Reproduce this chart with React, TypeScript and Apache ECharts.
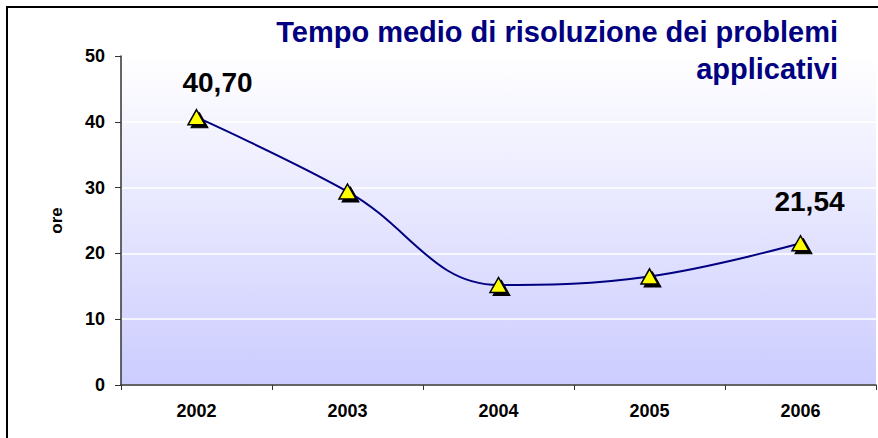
import React, { useEffect, useRef } from "react";
import * as echarts from "echarts";

const categories = ["2002", "2003", "2004", "2005", "2006"];
const values = [40.7, 29.4, 15.2, 16.5, 21.54];
const labelledIndexes = [0, 4];
const yTicks = { min: 0, max: 50, interval: 10 };
const titleLines = ["Tempo medio di risoluzione dei problemi", "applicativi"];
const yAxisName = "ore";

const FONT = "Arial, 'Liberation Sans', Helvetica, sans-serif";
const labelOffsets: Record<number, [number, number]> = { 0: [21, 2], 4: [9, -6] };

export default function App() {
  const ref = useRef<HTMLDivElement>(null);

  useEffect(() => {
    if (!ref.current) return;
    const chart = echarts.init(ref.current, undefined, { renderer: "svg" });
    const data = values.map((v, i) =>
      labelledIndexes.includes(i)
        ? {
            value: v,
            label: {
              show: true,
              position: "top",
              distance: 14,
              offset: labelOffsets[i] || [0, 0],
              fontSize: 28,
              fontWeight: "bold",
              fontFamily: FONT,
              color: "#000",
              formatter: (p: any) => Number(p.value).toFixed(2).replace(".", ","),
            },
          }
        : { value: v }
    );
    chart.setOption({
      animation: false,
      graphic: [
        {
          type: "text",
          right: 40,
          top: 13,
          style: {
            text: titleLines.join("\n"),
            textAlign: "right",
            fontSize: 29,
            lineHeight: 37,
            fontWeight: "bold",
            fill: "#000080",
            fontFamily: FONT,
          },
          z: 10,
        },
      ],
      grid: {
        left: 121,
        top: 56,
        right: 2,
        bottom: 53,
        show: true,
        borderWidth: 0,
        backgroundColor: new echarts.graphic.LinearGradient(0, 0, 0, 1, [
          { offset: 0, color: "#FFFFFF" },
          { offset: 1, color: "#CCCCFF" },
        ]),
      },
      xAxis: {
        type: "category",
        data: categories,
        boundaryGap: true,
        axisLine: { show: true, lineStyle: { color: "#333", width: 1.5 } },
        axisTick: { show: true, alignWithLabel: false, length: 5, lineStyle: { color: "#333" } },
        axisLabel: {
          margin: 17,
          fontSize: 18,
          fontWeight: "bold",
          color: "#000",
          fontFamily: FONT,
        },
        splitLine: { show: false },
      },
      yAxis: {
        type: "value",
        min: yTicks.min,
        max: yTicks.max,
        interval: yTicks.interval,
        name: yAxisName,
        nameLocation: "middle",
        nameRotate: 90,
        nameGap: 56,
        nameTextStyle: { fontSize: 17, fontWeight: "bold", color: "#000", fontFamily: FONT },
        axisLine: { show: true, lineStyle: { color: "#333", width: 1.5 } },
        axisTick: { show: true, inside: false, length: 6, lineStyle: { color: "#333" } },
        axisLabel: {
          margin: 16,
          fontSize: 18,
          fontWeight: "bold",
          color: "#000",
          fontFamily: FONT,
        },
        splitLine: { show: true, lineStyle: { color: "#FFFFFF", width: 1.5 } },
      },
      series: [
        {
          type: "line",
          data: values,
          smooth: 0.4,
          symbol: "triangle",
          symbolSize: [17, 15],
          symbolOffset: [3, 3],
          showAllSymbol: true,
          lineStyle: { opacity: 0, width: 0 },
          itemStyle: { color: "#000", borderColor: "#000", borderWidth: 1 },
          silent: true,
          z: 2,
          tooltip: { show: false },
        },
        {
          type: "line",
          data,
          smooth: 0.4,
          symbol: "triangle",
          symbolSize: [17, 15],
          showAllSymbol: true,
          lineStyle: { color: "#000080", width: 2 },
          itemStyle: {
            color: "#FFFF00",
            borderColor: "#000",
            borderWidth: 1.5,
          },
          z: 3,
        },
      ],
    });
    return () => chart.dispose();
  }, []);

  return (
    <div style={{ position: "absolute", left: 0, top: 0, width: 878, height: 438, overflow: "hidden", background: "#fff" }}>
      <div
        style={{
          position: "absolute",
          left: 6,
          top: 6,
          width: 900,
          height: 460,
          borderLeft: "2px solid #000",
          borderTop: "2px solid #000",
        }}
      />
      <div ref={ref} style={{ position: "absolute", left: 0, top: 0, width: 878, height: 438 }} />
    </div>
  );
}
